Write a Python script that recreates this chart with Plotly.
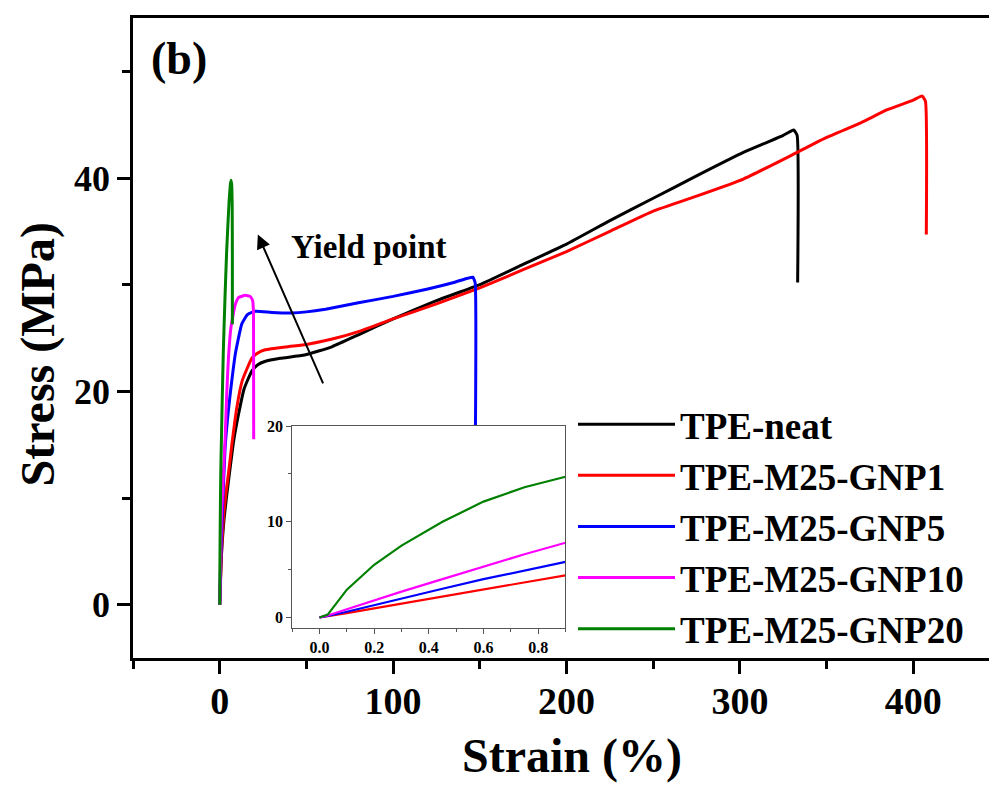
import plotly.graph_objects as go

# ---------------- data ----------------
series_names = ["TPE-neat", "TPE-M25-GNP1", "TPE-M25-GNP5", "TPE-M25-GNP10", "TPE-M25-GNP20"]
series_colors = ["#000000", "#FF0000", "#0000FF", "#FF00FF", "#008000"]

neat_strain = [0, 0.3, 0.6, 0.9, 1.5, 2.5, 4, 6, 8, 10.8, 14, 18.5, 22, 26, 35, 49, 65, 80, 100, 125,
               150, 175, 200, 225, 250, 275, 302, 315, 325, 331, 333, 333.3]
neat_stress = [0, 1.4, 2.9, 4.3, 6.0, 8.0, 10.2, 12.8, 15.3, 17.8, 20.2, 21.9, 22.5, 22.8, 23.1, 23.4, 24.2,
               25.3, 26.8, 28.5, 30.0, 31.9, 33.8, 36.0, 38.1, 40.2, 42.4, 43.3, 44.0, 44.5, 44.0, 30.2]

gnp1_strain = [0, 0.03, 0.1, 0.2, 0.3, 0.45, 0.6, 0.75, 0.9, 1.5, 2.5, 4, 5, 7, 9.8, 13, 18.5, 22, 26.2, 40,
               50, 64.9, 80, 100, 125, 150, 175, 200, 225, 250, 275, 302, 333, 350, 370, 385, 400, 405, 407, 407.5]
gnp1_stress = [0, 0.12, 0.45, 0.95, 1.45, 2.2, 2.95, 3.7, 4.4, 6.5, 8.8, 11.0, 12.2, 15.0, 18.4, 21.0, 23.1,
               23.6, 23.9, 24.2, 24.4, 24.9, 25.6, 26.8, 28.2, 29.7, 31.4, 33.1, 35.0, 36.9, 38.3, 39.9, 42.4,
               43.8, 45.2, 46.4, 47.3, 47.7, 47.2, 34.7]

gnp5_strain = [0, 0.03, 0.1, 0.2, 0.3, 0.45, 0.6, 0.75, 0.9, 1.5, 3.1, 5, 6.9, 9, 12.7, 16, 20.5, 30, 41.7,
               50, 61, 80, 100, 120, 135, 143, 146, 147.3, 147.5]
gnp5_stress = [0, 0.15, 0.6, 1.3, 2.0, 3.0, 4.0, 4.9, 5.8, 8.5, 14.7, 18.2, 20.9, 23.5, 26.3, 27.2, 27.5,
               27.4, 27.35, 27.45, 27.7, 28.3, 28.9, 29.6, 30.2, 30.6, 30.7, 30.2, 16.8]

gnp10_strain = [0, 0.03, 0.1, 0.2, 0.3, 0.45, 0.6, 0.75, 0.9, 2.1, 3.1, 4, 5, 6.5, 8.9, 11, 14.7, 17.5,
                19, 19.5, 19.6]
gnp10_stress = [0, 0.2, 0.85, 1.8, 2.7, 4.0, 5.3, 6.6, 7.8, 12.0, 15.5, 19.5, 23.0, 26.0, 28.1, 28.8, 29.0,
                28.9, 28.5, 27.3, 15.5]

gnp20_strain = [0, 0.03, 0.1, 0.2, 0.3, 0.45, 0.6, 0.75, 0.9, 1.3, 2.1, 3, 4, 5.4, 6.1, 6.5, 6.9, 7.2, 7.3, 7.3]
gnp20_stress = [0, 0.3, 2.9, 5.5, 7.5, 10.0, 12.1, 13.6, 14.7, 18.0, 23.8, 28.5, 33.1, 37.8, 39.3, 39.8,
                39.4, 37.5, 33.0, 26.3]

series_strain = [neat_strain, gnp1_strain, gnp5_strain, gnp10_strain, gnp20_strain]
series_stress = [neat_stress, gnp1_stress, gnp5_stress, gnp10_stress, gnp20_stress]
inset_series = [1, 2, 3, 4]  # series shown in the inset (neat hidden there)

main_xticks = [0, 100, 200, 300, 400]
main_yticks = [0, 20, 40]
inset_xticks = [0.0, 0.2, 0.4, 0.6, 0.8]
inset_yticks = [0, 10, 20]

x_title = "Strain (%)"
y_title = "Stress (MPa)"

arrow_head = (22.0, 34.7)
arrow_tail = (60.0, 20.6)
yield_label_pos = (86.0, 33.5)

# ---------------- figure ----------------
FONT = "Liberation Serif"
fig = go.Figure()

for i, name in enumerate(series_names):
    fig.add_trace(go.Scatter(
        x=series_strain[i], y=series_stress[i], mode="lines", name=name,
        line=dict(color=series_colors[i], width=3, shape="spline", smoothing=0.4),
        xaxis="x", yaxis="y"))

for i in inset_series:
    fig.add_trace(go.Scatter(
        x=series_strain[i], y=series_stress[i], mode="lines", showlegend=False,
        line=dict(color=series_colors[i], width=2.2), xaxis="x2", yaxis="y2"))

axis_common = dict(showgrid=False, zeroline=False, showline=True, mirror=True,
                   linecolor="black", ticks="outside", tickcolor="black", automargin=False)

fig.update_layout(
    width=997, height=785,
    margin=dict(l=125, r=5, t=10, b=135),
    paper_bgcolor="white", plot_bgcolor="white",
    font=dict(family=FONT, color="black"),
    xaxis=dict(**axis_common, domain=[0, 1], range=[-50, 450],
               tickmode="array", tickvals=main_xticks,
               ticklen=13, tickwidth=2.5, linewidth=2.5, ticklabelstandoff=-5,
               minor=dict(tickmode="linear", tick0=0, dtick=50, ticks="outside", ticklen=8,
                          tickwidth=2.5, tickcolor="black"),
               tickfont=dict(family=FONT, size=38, weight="bold")),
    yaxis=dict(**axis_common, domain=[0, 1], range=[-5, 55],
               tickmode="array", tickvals=main_yticks,
               ticklen=13, tickwidth=2.5, linewidth=2.5,
               minor=dict(tickmode="linear", tick0=0, dtick=10, ticks="outside", ticklen=8,
                          tickwidth=2.5, tickcolor="black"),
               tickfont=dict(family=FONT, size=36, weight="bold")),
    xaxis2=dict(showgrid=False, zeroline=False, showline=True, mirror=True, automargin=False,
                linecolor="#555555", linewidth=1, ticks="outside", tickcolor="#555555",
                domain=[0.1836, 0.4988], anchor="y2", range=[-0.1, 0.9],
                tickmode="array", tickvals=inset_xticks, tickformat=".1f", ticklen=5,
                minor=dict(tickmode="linear", tick0=0, dtick=0.1, ticks="outside", ticklen=3,
                           tickcolor="#555555"),
                tickfont=dict(family=FONT, size=16, weight="bold")),
    yaxis2=dict(showgrid=False, zeroline=False, showline=True, mirror=True, automargin=False,
                linecolor="#555555", linewidth=1, ticks="outside", tickcolor="#555555",
                domain=[0.0469, 0.3625], anchor="x2", range=[-1.1, 20],
                tickmode="array", tickvals=inset_yticks, ticklen=5,
                minor=dict(tickmode="linear", tick0=0, dtick=5, ticks="outside", ticklen=3,
                           tickcolor="#555555"),
                tickfont=dict(family=FONT, size=16, weight="bold")),
    legend=dict(x=0.5075, y=0.413, xanchor="left", yanchor="top",
                bgcolor="rgba(0,0,0,0)", itemwidth=97, tracegroupgap=0,
                font=dict(family=FONT, size=37, weight="bold")),
    showlegend=True,
)

# axis titles
fig.add_annotation(text=x_title, xref="paper", yref="paper", x=0.506, y=-0.153,
                   showarrow=False, font=dict(family=FONT, size=48, weight="bold"),
                   xanchor="center", yanchor="middle")
fig.add_annotation(text=y_title, xref="paper", yref="paper", x=-0.109, y=0.475,
                   showarrow=False, textangle=-90, font=dict(family=FONT, size=48, weight="bold"),
                   xanchor="center", yanchor="middle")

fig.add_annotation(text="(b)", xref="paper", yref="paper", x=0.0535, y=0.936,
                   showarrow=False, font=dict(family=FONT, size=46, weight="bold"),
                   xanchor="center", yanchor="middle")
fig.add_annotation(text="Yield point", xref="x", yref="y",
                   x=yield_label_pos[0], y=yield_label_pos[1],
                   showarrow=False, font=dict(family=FONT, size=33, weight="bold"),
                   xanchor="center", yanchor="middle")
fig.add_annotation(text="", xref="x", yref="y", x=arrow_head[0], y=arrow_head[1],
                   axref="x", ayref="y", ax=arrow_tail[0], ay=arrow_tail[1],
                   showarrow=True, arrowhead=2, arrowsize=1.4, arrowwidth=2, arrowcolor="black")

fig.write_html("out.html")
